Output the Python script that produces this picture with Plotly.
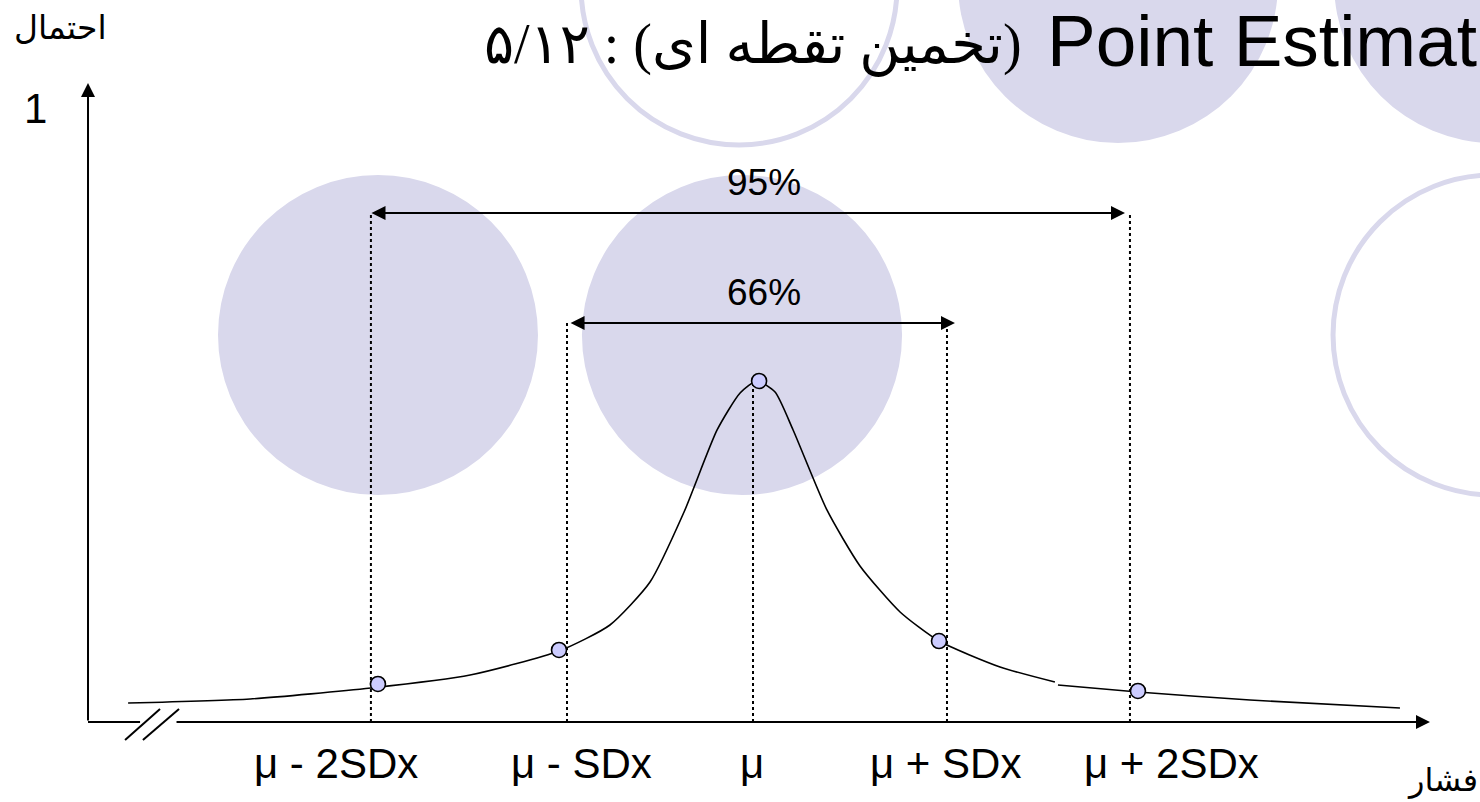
import plotly.graph_objects as go

# ---------------- data (x in SD units around mu, y = probability) ----------------
curve_x = [-3.289, -2.647, -2.011, -1.489, -1.021, -0.753, -0.542, -0.363, -0.189, -0.068,
           0.021, 0.116, 0.211, 0.389, 0.563, 0.774, 0.979, 1.300, 1.589, None,
           1.605, 2.026, 2.616, 3.405]
curve_y = [0.0309, 0.0375, 0.0554, 0.0765, 0.1156, 0.1580, 0.2280, 0.3420, 0.4756, 0.5358,
           0.5554, 0.5375, 0.4756, 0.3453, 0.2541, 0.1792, 0.1319, 0.0896, 0.0651, None,
           0.0603, 0.0489, 0.0358, 0.0228]

point_x = [-1.974, -1.021, 0.032, 0.979, 2.026]
point_y = [0.0619, 0.1173, 0.5554, 0.1319, 0.0505]

guide_x = [-2.011, -0.979, 0.0, 1.021, 1.984]
guide_top = [0.829, 0.650, 0.5554, 0.650, 0.829]

tick_labels = ["μ - 2SDx", "μ - SDx", "μ", "μ + SDx", "μ + 2SDx"]
tick_label_x = [-2.195, -0.905, -0.005, 1.011, 2.205]
tick_label_y = -0.0684

interval_labels = ["95%", "66%"]
interval_lo = [-2.016, -0.968]
interval_hi = [1.958, 1.063]
interval_level = [0.829, 0.650]
interval_label_x = 0.058
interval_label_y = [0.878, 0.699]

title_latin = "Point Estimat"
title_persian = "۵/۱۲ : (تخمین تقطه ای)"
y_axis_title = "احتمال"
x_axis_title = "فشار"
y_top_label = "1"

# axis geometry (data units)
axis_x0 = -3.5
axis_break = (-3.226, -3.042)
axis_x_end = 3.563
axis_y_end = 1.0407
slash_x = [[-3.305, -3.121], [-3.211, -3.021]]
slash_y = [-0.0293, 0.0212]

X_RANGE = [-3.9632, 3.8263]
Y_RANGE = [-0.1303, 1.1759]

LAV = "#D9D8EC"
SANS = "Liberation Sans, Arial, sans-serif"
PERS = "Liberation Serif, DejaVu Sans, serif"

fig = go.Figure()

# dotted guides
gx, gy = [], []
for x, t in zip(guide_x, guide_top):
    gx += [x, x, None]
    gy += [0, t, None]
fig.add_trace(go.Scatter(x=gx, y=gy, mode="lines",
                         line=dict(color="black", width=2, dash="dot"), hoverinfo="skip"))

# axis stub before the break, and the break slashes
fig.add_trace(go.Scatter(x=[axis_x0, axis_break[0]], y=[0, 0], mode="lines",
                         line=dict(color="black", width=2), hoverinfo="skip"))
for sx in slash_x:
    fig.add_trace(go.Scatter(x=sx, y=slash_y, mode="lines",
                             line=dict(color="black", width=2), hoverinfo="skip"))

# curve
fig.add_trace(go.Scatter(x=curve_x, y=curve_y, mode="lines", connectgaps=False,
                         line=dict(color="black", width=1.6, shape="spline", smoothing=0.6),
                         hoverinfo="skip"))
# points
fig.add_trace(go.Scatter(x=point_x, y=point_y, mode="markers",
                         marker=dict(size=15, color="#CCCCFF",
                                     line=dict(color="black", width=1.6)),
                         hoverinfo="skip"))

annotations = []


def arrow(xt, yt, xs, ys, both=False):
    return dict(x=xt, y=yt, ax=xs, ay=ys, xref="x", yref="y", axref="x", ayref="y",
                text="", showarrow=True, arrowhead=2, arrowsize=1.4, arrowwidth=2,
                arrowcolor="black", arrowside="end+start" if both else "end",
                startarrowhead=2, startarrowsize=1.4, standoff=0, startstandoff=0)


# axes
annotations.append(arrow(axis_x0, axis_y_end, axis_x0, 0))
annotations.append(arrow(axis_x_end, 0, axis_break[1], 0))

# intervals
for lab, lo, hi, lv, ly in zip(interval_labels, interval_lo, interval_hi,
                               interval_level, interval_label_y):
    annotations.append(arrow(hi, lv, lo, lv, both=True))
    annotations.append(dict(x=interval_label_x, y=ly, xref="x", yref="y", text=lab,
                            showarrow=False, font=dict(family=SANS, size=37, color="black")))

# tick labels
for lab, x in zip(tick_labels, tick_label_x):
    annotations.append(dict(x=x, y=tick_label_y, xref="x", yref="y", text=lab,
                            showarrow=False, font=dict(family=SANS, size=42, color="black")))

# "1" on y axis
annotations.append(dict(x=-3.779, y=1.0, xref="x", yref="y", text=y_top_label,
                        showarrow=False, font=dict(family=SANS, size=42, color="black")))
# axis titles
annotations.append(dict(x=-3.647, y=1.130, xref="x", yref="y", text=y_axis_title,
                        showarrow=False, font=dict(family=PERS, size=33, color="black")))
annotations.append(dict(x=1.0, y=-0.0945, xref="paper", yref="y", xanchor="right",
                        text=x_axis_title, showarrow=False,
                        font=dict(family=PERS, size=32, color="black")))

# title
annotations.append(dict(x=1479 / 1480, y=1 - 40 / 802, xref="paper", yref="paper",
                        xanchor="right", yanchor="middle", text=title_latin, showarrow=False,
                        font=dict(family=SANS, size=73, color="black")))
annotations.append(dict(x=1024 / 1480, y=1 - 45 / 802, xref="paper", yref="paper",
                        xanchor="right", yanchor="middle", text=title_persian, showarrow=False,
                        font=dict(family=PERS, size=56, color="black")))

# decorative circles (paper coordinates)
shapes = []
filled = [(0.1473, 0.3828, 0.3635, 0.7818), (0.3932, 0.3828, 0.6095, 0.7818),
          (0.6473, 0.8217, 0.8635, 1.2207), (0.9014, 0.8217, 1.1176, 1.2207)]
for x0, y0, x1, y1 in filled:
    shapes.append(dict(type="circle", xref="paper", yref="paper", x0=x0, y0=y0, x1=x1, y1=y1,
                       fillcolor=LAV, line=dict(width=0), layer="below"))
outlined = [(0.3926, 0.8192, 0.6061, 1.2132), (0.9007, 0.3828, 1.1169, 0.7818)]
for x0, y0, x1, y1 in outlined:
    shapes.append(dict(type="circle", xref="paper", yref="paper", x0=x0, y0=y0, x1=x1, y1=y1,
                       fillcolor="rgba(0,0,0,0)", line=dict(color=LAV, width=5), layer="below"))

fig.update_layout(
    width=1480, height=802,
    margin=dict(l=0, r=0, t=0, b=0),
    paper_bgcolor="white", plot_bgcolor="white",
    showlegend=False,
    xaxis=dict(range=X_RANGE, visible=False, fixedrange=True),
    yaxis=dict(range=Y_RANGE, visible=False, fixedrange=True),
    annotations=annotations,
    shapes=shapes,
)

fig.write_html("out.html", config={"displayModeBar": False},
               post_script="document.body.style.margin='0';document.body.style.overflow='hidden';")
